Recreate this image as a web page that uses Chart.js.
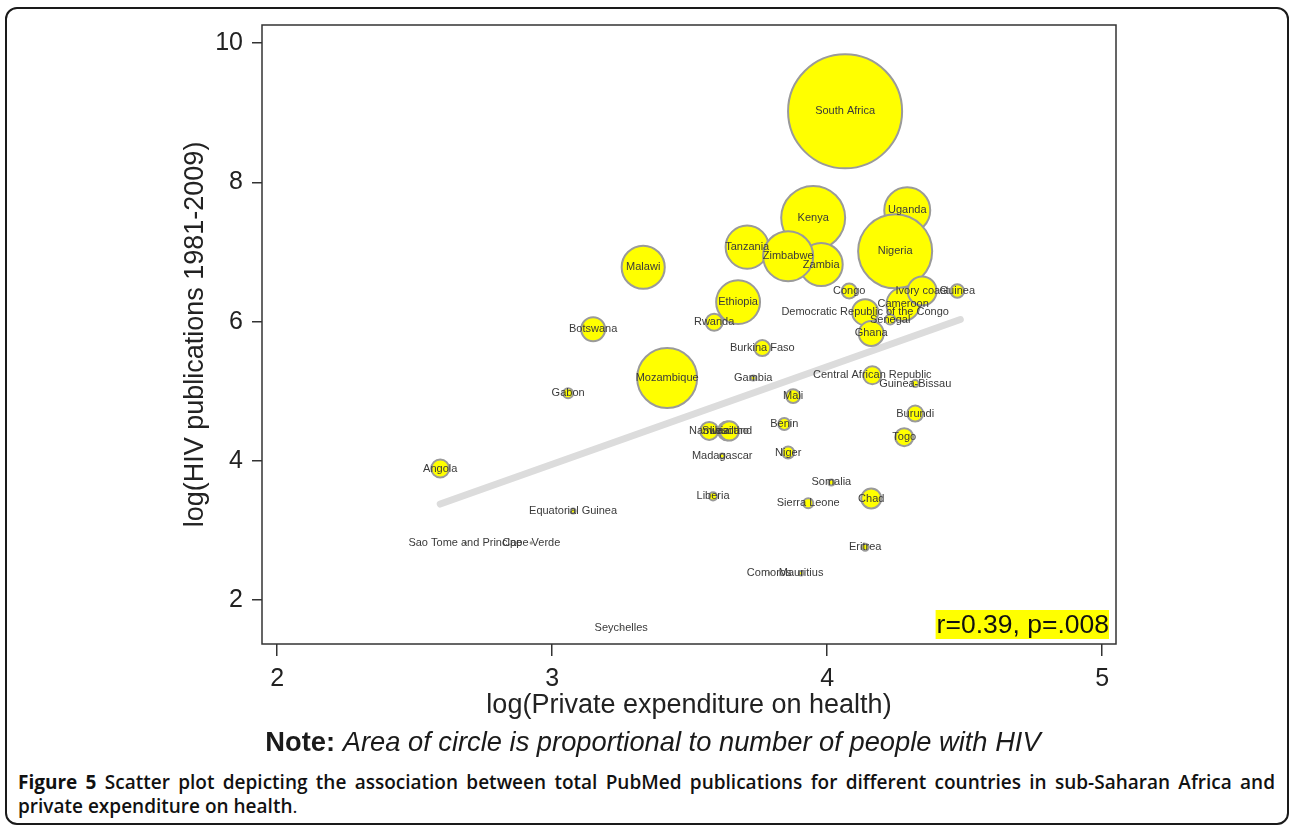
<!DOCTYPE html>
<html>
<head>
<meta charset="utf-8">
<script src="https://cdn.jsdelivr.net/npm/chart.js@4"></script>
<style>
  html, body { margin: 0; padding: 0; background: #fff; }
  #frame { position: absolute; left: 5px; top: 7px; width: 1284px; height: 818px; box-sizing: border-box;
           border: 2px solid #1a1a1a; border-radius: 12px; }
  #c { position: absolute; left: 0; top: 0; }
  #note { position: absolute; left: 0; top: 726px; width: 1306px; text-align: center;
          font-family: Arial, "Liberation Sans", sans-serif; font-size: 27.3px; line-height: 32px; color: #1a1a1a; }
  #note i { font-style: italic; }
  #cap { position: absolute; left: 18px; top: 770px; width: 1257px; text-align: justify; text-align-last: left;
         font-family: "Open Sans", sans-serif; font-size: 19px; line-height: 24px; font-weight: 600; color: #111; }
  #cap b { font-weight: 700; }
</style>
</head>
<body>
<div id="frame"></div>
<canvas id="c" width="1292" height="730"></canvas>
<div id="note"><b>Note:</b> <i>Area of circle is proportional to number of people with HIV</i></div>
<div id="cap"><b>Figure 5</b> Scatter plot depicting the association between total PubMed publications for different countries in sub-Saharan Africa and private expenditure on health<span style="font-weight:400">.</span></div>
<script>
// ---- data ----
const countries = [
  "Uganda", "Kenya", "Tanzania", "Zambia", "Zimbabwe", "Nigeria", "South Africa", "Malawi",
  "Ethiopia", "Mozambique", "Cameroon", "Ivory coast", "Democratic Republic of the Congo", "Ghana",
  "Senegal", "Congo", "Guinea", "Rwanda", "Botswana", "Burkina Faso", "Central African Republic",
  "Guinea-Bissau", "Gambia", "Mali", "Burundi", "Togo", "Namibia", "Swaziland", "Lesotho", "Benin",
  "Niger", "Madagascar", "Somalia", "Liberia", "Sierra Leone", "Chad", "Eritrea", "Comoros",
  "Mauritius", "Angola", "Gabon", "Equatorial Guinea", "Sao Tome and Principe", "Cape Verde", "Seychelles"
];
// log(Private expenditure on health)
const privateExpenditure = [
  4.291, 3.949, 3.709, 3.978, 3.858, 4.247, 4.065, 3.331,
  3.676, 3.418, 4.276, 4.345, 4.138, 4.160,
  4.229, 4.080, 4.473, 3.589, 3.149, 3.764, 4.164,
  4.320, 3.731, 3.876, 4.320, 4.280, 3.571, 3.636, 3.644, 3.844,
  3.858, 3.618, 4.015, 3.585, 3.931, 4.160, 4.138, 3.789,
  3.905, 2.593, 3.058, 3.076, 2.684, 2.924, 3.251
];
// log(HIV publications 1981-2009)
const hivPublications = [
  7.60, 7.49, 7.07, 6.82, 6.94, 7.01, 9.02, 6.78,
  6.28, 5.19, 6.25, 6.44, 6.135, 5.83,
  6.03, 6.44, 6.44, 5.99, 5.89, 5.62, 5.23,
  5.11, 5.19, 4.93, 4.68, 4.34, 4.43, 4.43, 4.43, 4.53,
  4.12, 4.07, 3.69, 3.49, 3.39, 3.46, 2.76, 2.385,
  2.385, 3.89, 4.97, 3.28, 2.82, 2.82, 1.595
];
// people living with HIV (thousands) -> circle area
const peopleWithHIV = [
  910, 1760, 800, 800, 1080, 2360, 5600, 800,
  830, 1550, 480, 362, 291, 269,
  43, 97, 77, 124, 248, 110, 140,
  21, 11, 84, 110, 140, 140, 150, 160, 62,
  62, 11, 15, 28, 43, 172, 21, 0.2,
  9, 140, 43, 11, 0.5, 0.8, 0.1
];
const xTicks = [2, 3, 4, 5];
const yTicks = [2, 4, 6, 8, 10];
const fitX = [2.593, 4.484];
const fitY = [3.38, 6.03];
const statText = "r=0.39, p=.008";

// ---- chart ----
const AREA_K = 0.762; // px per sqrt(thousand)
const FONT = 'Arial, "Liberation Sans", sans-serif';

const bubbles = countries.map((c, i) => ({
  x: privateExpenditure[i], y: hivPublications[i], r: AREA_K * Math.sqrt(peopleWithHIV[i])
}));
const fitLine = fitX.map((x, i) => ({ x: x, y: fitY[i] }));

const overlay = {
  id: 'overlay',
  afterDatasetsDraw(chart) {
    const { ctx, chartArea: a } = chart;
    const meta = chart.getDatasetMeta(1);
    ctx.save();
    ctx.font = '11px ' + FONT;
    ctx.fillStyle = '#3a3a3a';
    ctx.textAlign = 'center';
    ctx.textBaseline = 'middle';
    meta.data.forEach((el, i) => ctx.fillText(countries[i], el.x, el.y));
    // plot frame
    ctx.strokeStyle = '#333';
    ctx.lineWidth = 1.5;
    ctx.strokeRect(a.left, a.top, a.right - a.left, a.bottom - a.top);
    // statistic box
    ctx.font = '26.5px ' + FONT;
    const w = ctx.measureText(statText).width;
    const bh = 29;
    ctx.fillStyle = '#ffff00';
    ctx.fillRect(a.right - 7 - w - 1, a.bottom - 5 - bh, w + 1, bh);
    ctx.fillStyle = '#111';
    ctx.textAlign = 'right';
    ctx.textBaseline = 'middle';
    ctx.fillText(statText, a.right - 7, a.bottom - 5 - bh / 2 + 1);
    ctx.restore();
  }
};

new Chart(document.getElementById('c'), {
  type: 'bubble',
  data: {
    datasets: [
      {
        type: 'line', data: fitLine, order: 2,
        borderColor: '#dcdcdc', borderWidth: 7, borderCapStyle: 'round',
        pointRadius: 0, fill: false
      },
      {
        type: 'bubble', data: bubbles, order: 1,
        backgroundColor: '#ffff00', borderColor: '#9a9a9a', borderWidth: 2
      }
    ]
  },
  options: {
    responsive: false,
    animation: false,
    events: [],
    layout: { autoPadding: false, padding: { left: 0, top: 25, right: 176, bottom: 0 } },
    plugins: { legend: { display: false }, tooltip: { enabled: false } },
    scales: {
      x: {
        type: 'linear', min: 1.945, max: 5.05,
        afterBuildTicks: s => { s.ticks = xTicks.map(v => ({ value: v })); },
        afterFit: s => { s.height = 86; },
        grid: { display: true, drawOnChartArea: false, drawTicks: true, tickLength: 12, color: '#333', lineWidth: 1.5 },
        border: { display: false },
        ticks: { font: { family: FONT, size: 25 }, color: '#222', padding: 8, maxRotation: 0 },
        title: { display: true, text: 'log(Private expenditure on health)', color: '#222',
                 font: { family: FONT, size: 27 }, padding: { top: 0, bottom: 8 } }
      },
      y: {
        type: 'linear', min: 1.37, max: 10.26,
        afterBuildTicks: s => { s.ticks = yTicks.map(v => ({ value: v })); },
        afterFit: s => { s.width = 262; },
        grid: { display: true, drawOnChartArea: false, drawTicks: true, tickLength: 10, color: '#333', lineWidth: 1.5 },
        border: { display: false },
        ticks: { font: { family: FONT, size: 25 }, color: '#222', padding: 9 },
        title: { display: true, text: 'log(HIV publications 1981-2009)', color: '#222',
                 font: { family: FONT, size: 27 }, padding: { top: 179, bottom: 0 } }
      }
    }
  },
  plugins: [overlay]
});
</script>
</body>
</html>
